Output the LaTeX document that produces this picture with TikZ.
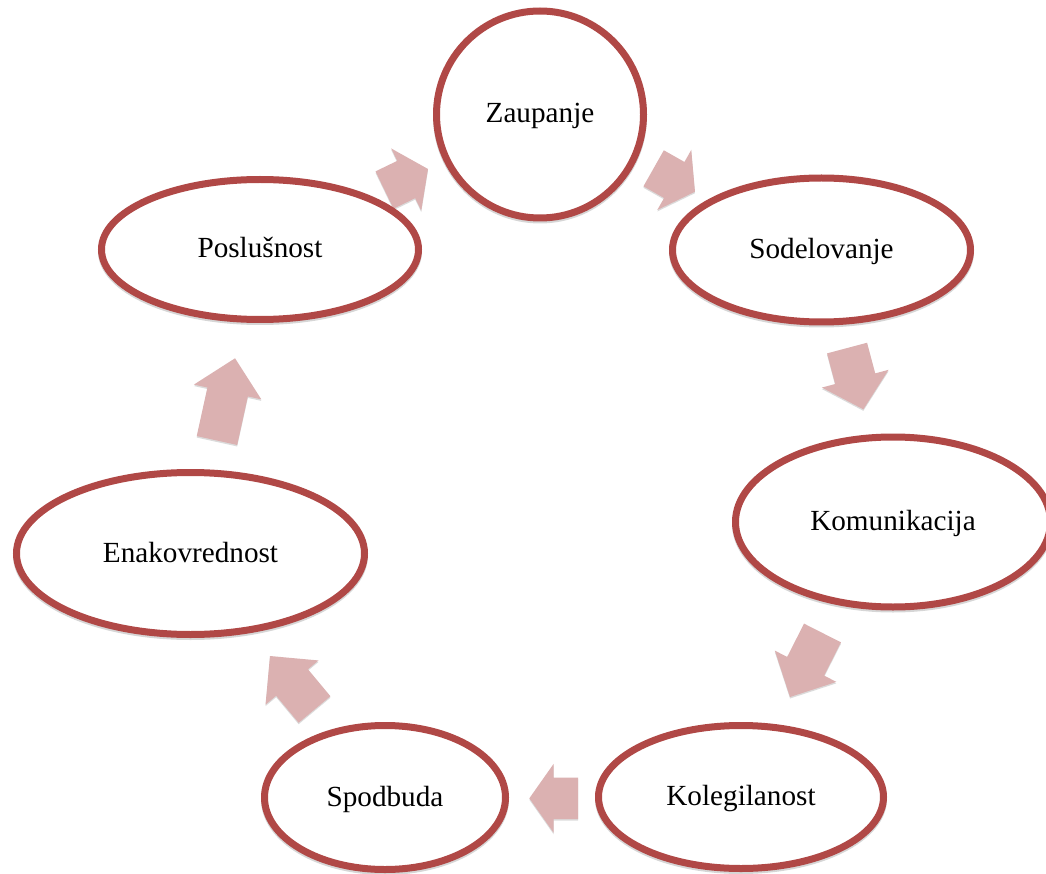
\documentclass[tikz,border=0pt]{standalone}
\usepackage{fontspec}
\setmainfont{Liberation Serif}
\usetikzlibrary{shapes.geometric,shadows}
\definecolor{ringred}{HTML}{B04846}
\definecolor{arrowpink}{HTML}{DBB1B1}
\tikzset{
  stage/.style={ellipse, draw=ringred, line width=7pt, fill=white, inner sep=0pt,
    text=black, font=\fontsize{29.2}{35}\selectfont, text height=23pt, text depth=6pt,
    drop shadow={shadow xshift=0pt, shadow yshift=-2pt, opacity=.16,
      fill=black, draw=black, line width=7pt}},
  flowarrow/.style={fill=arrowpink,
    drop shadow={shadow xshift=0pt, shadow yshift=-1.5pt, opacity=.14, fill=black}}
}
% block arrow: name, centre x, centre y, direction, length, head length
\newcommand\cyclearrow[6]{%
  \coordinate (#1) at (#2,#3);
  \fill[flowarrow, shift={(#1)}, rotate=#4]
    (-#5/2,-20.7) -- ({#5/2-#6},-20.7) -- ({#5/2-#6},-34.5) -- (#5/2,0)
    -- ({#5/2-#6},34.5) -- ({#5/2-#6},20.7) -- (-#5/2,20.7) -- cycle;}
\begin{document}
\begin{tikzpicture}[x=1pt, y=-1pt]
  \useasboundingbox (0,0) rectangle (1046,874);
  \fill[white] (0,0) rectangle (1046,874);

  % arrows of the cycle
  \cyclearrow{a1}{406.25}{179.5}{25.8}{48.3}{24.2}
  \cyclearrow{a2}{674.3}{180}{-29.5}{47.5}{23.8}
  \cyclearrow{a3}{855.2}{378.7}{-75.1}{63.4}{31.7}
  \cyclearrow{a4}{806.25}{665}{-116.9}{71.8}{34.5}
  \cyclearrow{a5}{553.7}{798.3}{180}{48.7}{24.3}
  \cyclearrow{a6}{292.25}{682.75}{129.8}{69.6}{34.5}
  \cyclearrow{a7}{226}{399.4}{77.6}{84.2}{34.5}

  % stages
  \node[stage, minimum width=207pt, minimum height=207pt] (zaupanje) at (540,114.5) {Zaupanje};
  \node[stage, minimum width=298pt, minimum height=144pt] (sodelovanje) at (821.5,250) {Sodelovanje};
  \node[stage, minimum width=315pt, minimum height=170pt] (komunikacija) at (893,522) {Komunikacija};
  \node[stage, minimum width=285pt, minimum height=143pt] (kolegilanost) at (741,797) {Kolegilanost};
  \node[stage, minimum width=241pt, minimum height=144pt] (spodbuda) at (385,797.5) {Spodbuda};
  \node[stage, minimum width=348pt, minimum height=162pt] (enakovrednost) at (190.5,553.5) {Enakovrednost};
  \node[stage, minimum width=317pt, minimum height=140pt] (poslusnost) at (260,249.5) {Poslušnost};
\end{tikzpicture}
\end{document}
